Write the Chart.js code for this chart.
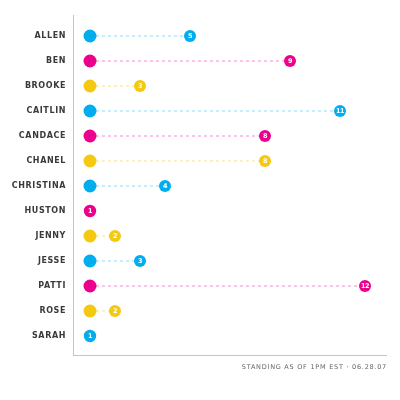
<!DOCTYPE html>
<html>
<head>
<meta charset="utf-8">
<script src="https://cdn.jsdelivr.net/npm/chart.js@4"></script>
<style>
  html, body { margin: 0; padding: 0; background: #fff; }
  #wrap { width: 400px; height: 400px; }
</style>
</head>
<body>
<div id="wrap"><canvas id="chart" width="400" height="400"></canvas></div>
<script>
// =====================================================
// DATA — standings
// =====================================================

const names  = ['ALLEN', 'BEN', 'BROOKE', 'CAITLIN', 'CANDACE', 'CHANEL', 'CHRISTINA',
                'HUSTON', 'JENNY', 'JESSE', 'PATTI', 'ROSE', 'SARAH'];
const scores = [5, 9, 3, 11, 8, 8, 4, 1, 2, 3, 12, 2, 1];
const startValue = 1;   // every line starts at 1
const footer = 'STANDING AS OF 1PM EST · 06.28.07';

// colours cycle blue, magenta, yellow down the list
const dotColors  = ['#00aeef', '#ec008c', '#f5c811'];
const lineColors = ['rgba(0,174,239,0.45)', 'rgba(236,0,140,0.45)', 'rgba(245,200,17,0.5)'];

// one dataset per person: start dot + dashed line to the score dot
const datasets = names.map((n, i) => {
  const c = i % 3;
  const pts = scores[i] > startValue
    ? [{ x: startValue, y: i }, { x: scores[i], y: i }]
    : [{ x: scores[i], y: i }];
  return {
    label: n,
    data: pts,
    showLine: true,
    borderColor: lineColors[c],
    borderWidth: 1,
    borderDash: [3, 3],
    pointRadius: pts.length > 1 ? [6.5, 6] : [6.2],
    pointBackgroundColor: dotColors[c],
    pointBorderWidth: 0,
    pointHoverRadius: 0
  };
});

// white score number inside the last dot
const scoreLabels = {
  id: 'scoreLabels',
  afterDatasetsDraw(chart) {
    const ctx = chart.ctx;
    ctx.save();
    ctx.letterSpacing = '-0.4px';
    ctx.fillStyle = '#fff';
    ctx.font = 'bold 6.5px "DejaVu Sans"';
    ctx.textAlign = 'center';
    ctx.textBaseline = 'middle';
    chart.data.datasets.forEach((ds, i) => {
      const pts = chart.getDatasetMeta(i).data;
      const p = pts[pts.length - 1];
      ctx.fillText(String(scores[i]), p.x, p.y + 0.5);
    });
    ctx.restore();
  }
};

// footer line under the x axis, right aligned
const footerText = {
  id: 'footerText',
  afterDraw(chart) {
    const ctx = chart.ctx;
    const area = chart.chartArea;
    ctx.save();
    ctx.letterSpacing = '0.75px';
    ctx.fillStyle = '#666';
    ctx.font = '6.5px "DejaVu Sans"';
    ctx.textAlign = 'right';
    ctx.textBaseline = 'middle';
    ctx.fillText(footer, area.right + 1, area.bottom + 12);
    ctx.restore();
  }
};

// a little letter spacing on the name labels
const spacing = {
  id: 'spacing',
  beforeDraw(chart) { chart.ctx.letterSpacing = '0.6px'; },
  afterDraw(chart) { chart.ctx.letterSpacing = '0px'; }
};

new Chart(document.getElementById('chart'), {
  type: 'scatter',
  data: { datasets },
  plugins: [spacing, scoreLabels, footerText],
  options: {
    responsive: false,
    animation: false,
    events: [],
    layout: { padding: { top: 15, right: 14, left: 0, bottom: 0 } },
    plugins: { legend: { display: false }, tooltip: { enabled: false } },
    scales: {
      x: {
        type: 'linear',
        min: 0.32,
        max: 12.84,
        grid: { display: false },
        border: { color: '#c4c4c4', width: 1 },
        ticks: { display: false },
        afterFit: s => { s.height = 45; }
      },
      y: {
        type: 'linear',
        reverse: true,
        min: -0.84,
        max: 12.76,
        grid: { display: false, drawTicks: false },
        border: { color: '#c4c4c4', width: 1 },
        afterBuildTicks: s => { s.ticks = names.map((n, i) => ({ value: i })); },
        ticks: {
          callback: v => names[v],
          color: '#3a3a3a',
          padding: 7,
          font: { family: 'DejaVu Sans', size: 8, weight: 'bold' }
        },
        afterFit: s => { s.width = 73; }
      }
    }
  }
});
</script>
</body>
</html>
